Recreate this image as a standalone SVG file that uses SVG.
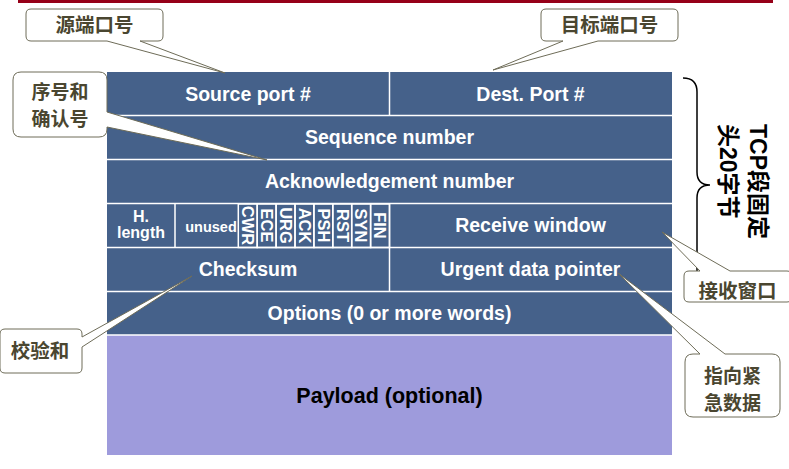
<svg xmlns="http://www.w3.org/2000/svg" width="789" height="469" viewBox="0 0 789 469">
<style>
.hdr{fill:#45618A}
.sep{stroke:#ffffff;stroke-width:1.5;fill:none}
.w{fill:#ffffff;font-family:"Liberation Sans",Arial,sans-serif;font-weight:bold;text-anchor:middle}
.f{font-size:19.5px}
.flag{font-size:16.5px}
.co{fill:#ffffff;stroke:#6e6c58;stroke-width:1}
.ct{fill:#4a4630;font-family:"Noto Sans CJK SC",sans-serif;font-weight:bold;font-size:19.5px;text-anchor:middle}
.ct2{font-size:19px}
.side{fill:#000000;font-family:"Liberation Sans","Noto Sans CJK SC",sans-serif;font-weight:bold;font-size:23px}
</style>
<rect x="18" y="0" width="755" height="3" fill="#960018"/>
<g id="table">
<rect class="hdr" x="107" y="72" width="565" height="263"/>
<rect x="107" y="335" width="565" height="120" fill="#9E9BDC"/>
<path class="sep" d="M107,115.5H672M107,159.5H672M107,203.5H672M107,247.5H672M107,291.5H672M107,335H672M389.5,72V115.5M389.5,203.5V291.5M175,203.5V247.5"/>
<g class="sep">
<rect x="238.3" y="204" width="18.9" height="43.5"/>
<rect x="257.2" y="204" width="18.9" height="43.5"/>
<rect x="276.1" y="204" width="18.9" height="43.5"/>
<rect x="295" y="204" width="18.9" height="43.5"/>
<rect x="313.9" y="204" width="18.9" height="43.5"/>
<rect x="332.8" y="204" width="18.9" height="43.5"/>
<rect x="351.7" y="204" width="18.9" height="43.5"/>
<rect x="370.6" y="204" width="18.9" height="43.5"/>
</g>
<text class="w f" x="248" y="100.5">Source port #</text>
<text class="w f" x="530.5" y="100.5">Dest. Port #</text>
<text class="w f" x="389.5" y="144">Sequence number</text>
<text class="w f" x="389.5" y="188">Acknowledgement number</text>
<text class="w" x="141" y="222" font-size="16">H.</text>
<text class="w" x="141" y="238" font-size="16">length</text>
<text class="w" x="211" y="232" font-size="14.5">unused</text>
<g class="w flag">
<text transform="translate(247.8,225.5) rotate(90)" dy="0.35em">CWR</text>
<text transform="translate(266.7,225.5) rotate(90)" dy="0.35em">ECE</text>
<text transform="translate(285.6,225.5) rotate(90)" dy="0.35em">URG</text>
<text transform="translate(304.5,225.5) rotate(90)" dy="0.35em">ACK</text>
<text transform="translate(323.4,225.5) rotate(90)" dy="0.35em">PSH</text>
<text transform="translate(342.3,225.5) rotate(90)" dy="0.35em">RST</text>
<text transform="translate(361.2,225.5) rotate(90)" dy="0.35em">SYN</text>
<text transform="translate(380.1,225.5) rotate(90)" dy="0.35em">FIN</text>
</g>
<text class="w f" x="530.5" y="232">Receive window</text>
<text class="w f" x="248" y="276">Checksum</text>
<text class="w f" x="530.5" y="276">Urgent data pointer</text>
<text class="w f" x="389.5" y="320">Options (0 or more words)</text>
<text x="389.5" y="403" font-family="Liberation Sans, Arial, sans-serif" font-weight="bold" font-size="21.5" text-anchor="middle" fill="#000000">Payload (optional)</text>
</g>
<g id="brace">
<path d="M683,78Q697,78 697,92V172Q697,185 710,185Q697,185 697,198V271" fill="none" stroke="#000000" stroke-width="1.5"/>
<text class="side" transform="translate(758,124) rotate(90)" dy="0.35em">TCP段固定</text>
<text class="side" transform="translate(728,124) rotate(90)" dy="0.35em">头20字节</text>
</g>
<g id="callouts">
<g id="c-src">
<path class="co" d="M31,9H158Q163,9 163,14V36Q163,41 158,41H140L225,73L107,41H31Q26,41 26,36V14Q26,9 31,9Z"/>
<text class="ct" x="94.5" y="32">源端口号</text>
</g>
<g id="c-dst">
<path class="co" d="M546,9H673Q678,9 678,14V36Q678,41 673,41H598L493,70L563,41H546Q541,41 541,36V14Q541,9 546,9Z"/>
<text class="ct" x="609.5" y="32">目标端口号</text>
</g>
<g id="c-seq">
<path class="co" d="M21,72H99Q107,72 107,80V112L267,160L107,127V129Q107,137 99,137H21Q13,137 13,129V80Q13,72 21,72Z"/>
<text class="ct ct2" x="60" y="99">序号和</text>
<text class="ct ct2" x="60" y="125.5">确认号</text>
</g>
<g id="c-chk">
<path class="co" d="M5,329H77Q82,329 82,334V337L192,276L82,347V368Q82,373 77,373H5Q0,373 0,368V334Q0,329 5,329Z"/>
<text class="ct" x="40" y="358">校验和</text>
</g>
<g id="c-rwnd">
<path class="co" d="M689,271H700L662,232L730,271H787Q792,271 792,276V297Q792,302 787,302H689Q684,302 684,297V276Q684,271 689,271Z"/>
<text class="ct" x="737.5" y="298">接收窗口</text>
</g>
<g id="c-urg">
<path class="co" d="M693,354H700L618,273L725,354H772Q780,354 780,362V409Q780,417 772,417H693Q685,417 685,409V362Q685,354 693,354Z"/>
<text class="ct ct2" x="732.5" y="383">指向紧</text>
<text class="ct ct2" x="732.5" y="409.5">急数据</text>
</g>
</g>
</svg>
